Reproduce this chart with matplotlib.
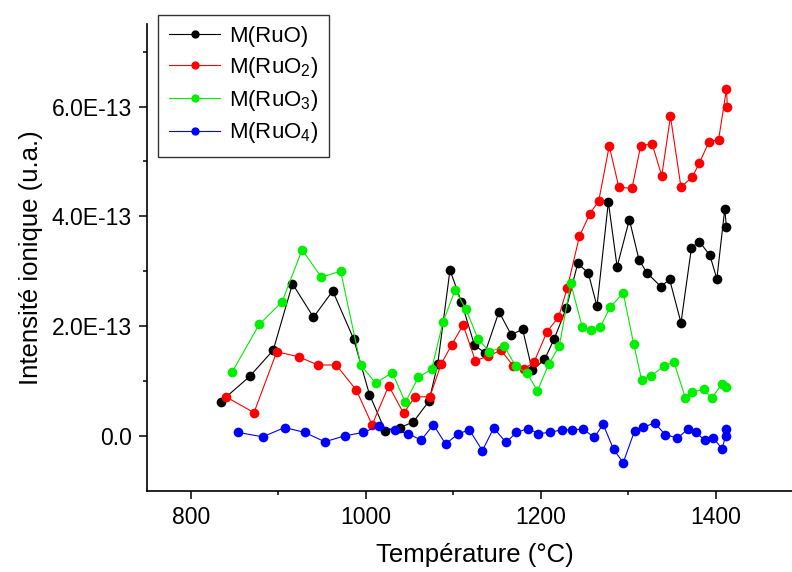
import numpy as np
import matplotlib
matplotlib.use("Agg")
import matplotlib.pyplot as plt

# ---------------------------
# Data (intensity in units of 1E-13)
# ---------------------------
t_ruo = [834, 867, 894, 916, 940, 962, 986, 1004, 1022, 1039, 1054, 1072, 1082, 1096,
         1109, 1124, 1136, 1152, 1166, 1179, 1190, 1204, 1215, 1229, 1242, 1254, 1264,
         1277, 1287, 1301, 1312, 1321, 1337, 1347, 1360, 1372, 1381, 1393, 1401, 1410, 1412]
i_ruo = [0.62, 1.08, 1.56, 2.77, 2.16, 2.64, 1.76, 0.75, 0.09, 0.15, 0.25, 0.63, 1.31, 3.02,
         2.44, 1.65, 1.51, 2.26, 1.84, 1.94, 1.19, 1.39, 1.76, 2.33, 3.14, 2.97, 2.36,
         4.26, 3.08, 3.94, 3.21, 2.97, 2.72, 2.85, 2.06, 3.43, 3.54, 3.29, 2.86, 4.13, 3.80]

t_ruo2 = [840, 872, 898, 923, 945, 966, 989, 1007, 1026, 1043, 1056, 1073, 1086, 1098,
          1111, 1125, 1140, 1154, 1168, 1181, 1192, 1207, 1220, 1230, 1244, 1256, 1266,
          1278, 1289, 1304, 1314, 1327, 1338, 1348, 1360, 1373, 1381, 1392, 1403, 1412, 1413]
i_ruo2 = [0.71, 0.42, 1.53, 1.44, 1.29, 1.29, 0.83, 0.20, 0.91, 0.41, 0.71, 0.71, 1.31, 1.66,
          2.02, 1.37, 1.45, 1.56, 1.28, 1.22, 1.34, 1.90, 2.16, 2.69, 3.64, 4.05, 4.28,
          5.28, 4.53, 4.51, 5.29, 5.32, 4.74, 5.82, 4.53, 4.72, 4.97, 5.36, 5.40, 6.32, 5.99]

t_ruo3 = [847, 878, 904, 927, 949, 971, 994, 1011, 1030, 1045, 1060, 1075, 1088, 1102,
          1114, 1128, 1141, 1158, 1171, 1184, 1196, 1209, 1221, 1234, 1247, 1257, 1268,
          1279, 1294, 1306, 1315, 1326, 1341, 1352, 1365, 1373, 1386, 1395, 1407, 1412]
i_ruo3 = [1.16, 2.03, 2.44, 3.39, 2.89, 3.00, 1.29, 0.96, 1.15, 0.61, 1.07, 1.21, 2.07, 2.66,
          2.31, 1.77, 1.53, 1.63, 1.27, 1.14, 0.82, 1.31, 1.64, 2.78, 1.99, 1.93, 1.99,
          2.34, 2.60, 1.67, 1.02, 1.09, 1.28, 1.34, 0.69, 0.79, 0.85, 0.68, 0.95, 0.89]

t_ruo4 = [854, 882, 907, 930, 953, 976, 997, 1015, 1033, 1048, 1063, 1077, 1091, 1105,
          1118, 1133, 1146, 1160, 1172, 1185, 1197, 1210, 1224, 1235, 1248, 1261, 1271,
          1283, 1294, 1307, 1317, 1330, 1342, 1356, 1368, 1377, 1387, 1397, 1407, 1411, 1412]
i_ruo4 = [0.06, -0.02, 0.15, 0.06, -0.11, 0.00, 0.06, 0.18, 0.10, 0.04, -0.08, 0.20, -0.15, 0.03,
          0.11, -0.27, 0.14, -0.12, 0.06, 0.13, 0.04, 0.06, 0.11, 0.11, 0.12, -0.03, 0.21,
          -0.25, -0.49, 0.09, 0.16, 0.23, 0.02, -0.04, 0.12, 0.06, -0.08, -0.04, -0.24, 0.00, 0.12]

labels = ["M(RuO)", "M(RuO$_2$)", "M(RuO$_3$)", "M(RuO$_4$)"]
colors = ["#000000", "#ff0000", "#00ee00", "#0000ff"]

ytick_vals = [0, 2e-13, 4e-13, 6e-13]
ytick_labels = ["0.0", "2.0E-13", "4.0E-13", "6.0E-13"]
xtick_vals = [800, 1000, 1200, 1400]

# ---------------------------
# Style
# ---------------------------
plt.rcParams["font.family"] = ["Liberation Sans", "DejaVu Sans"]
plt.rcParams["mathtext.fontset"] = "custom"
plt.rcParams["mathtext.rm"] = "Liberation Sans"
plt.rcParams["mathtext.it"] = "Liberation Sans:italic"

fig = plt.figure(figsize=(7.92, 5.72), dpi=100)
ax = fig.add_axes([0.1859, 0.1423, 0.8286, 0.8152])

series = [(t_ruo, i_ruo), (t_ruo2, i_ruo2), (t_ruo3, i_ruo3), (t_ruo4, i_ruo4)]
for (t, i), lab, c in zip(series, labels, colors):
    ax.plot(t, np.array(i) * 1e-13, "-o", color=c, lw=0.8, ms=7,
            markeredgewidth=0, label=lab)

ax.set_xlim(750, 1500)
ax.set_ylim(-1e-13, 7.5e-13)
ax.set_xticks(xtick_vals)
ax.set_xticks([900, 1100, 1300], minor=True)
ax.set_yticks(ytick_vals)
ax.set_yticklabels(ytick_labels)
ax.set_yticks([1e-13, 3e-13, 5e-13, 7e-13], minor=True)

for side in ["top", "right"]:
    ax.spines[side].set_visible(False)
for side in ["left", "bottom"]:
    ax.spines[side].set_linewidth(1.2)

ax.tick_params(which="major", direction="out", length=6, width=1.1, labelsize=16.5, pad=5)
ax.tick_params(which="minor", direction="out", length=3, width=1.1)

ax.set_xlabel("Température (°C)", fontsize=18.5, labelpad=10)
ax.set_ylabel("Intensité ionique (u.a.)", fontsize=18.5, labelpad=6)

leg = ax.legend(loc="upper left", bbox_to_anchor=(158 / 792, 1 - 15 / 572),
                bbox_transform=fig.transFigure, borderaxespad=0, fontsize=16,
                fancybox=False, edgecolor="#333333", framealpha=1,
                handlelength=2.3, handletextpad=0.4, labelspacing=0.35,
                borderpad=0.5, markerscale=0.85)
leg.get_frame().set_linewidth(1.0)

plt.savefig("out.png", dpi=100)
plt.close()
